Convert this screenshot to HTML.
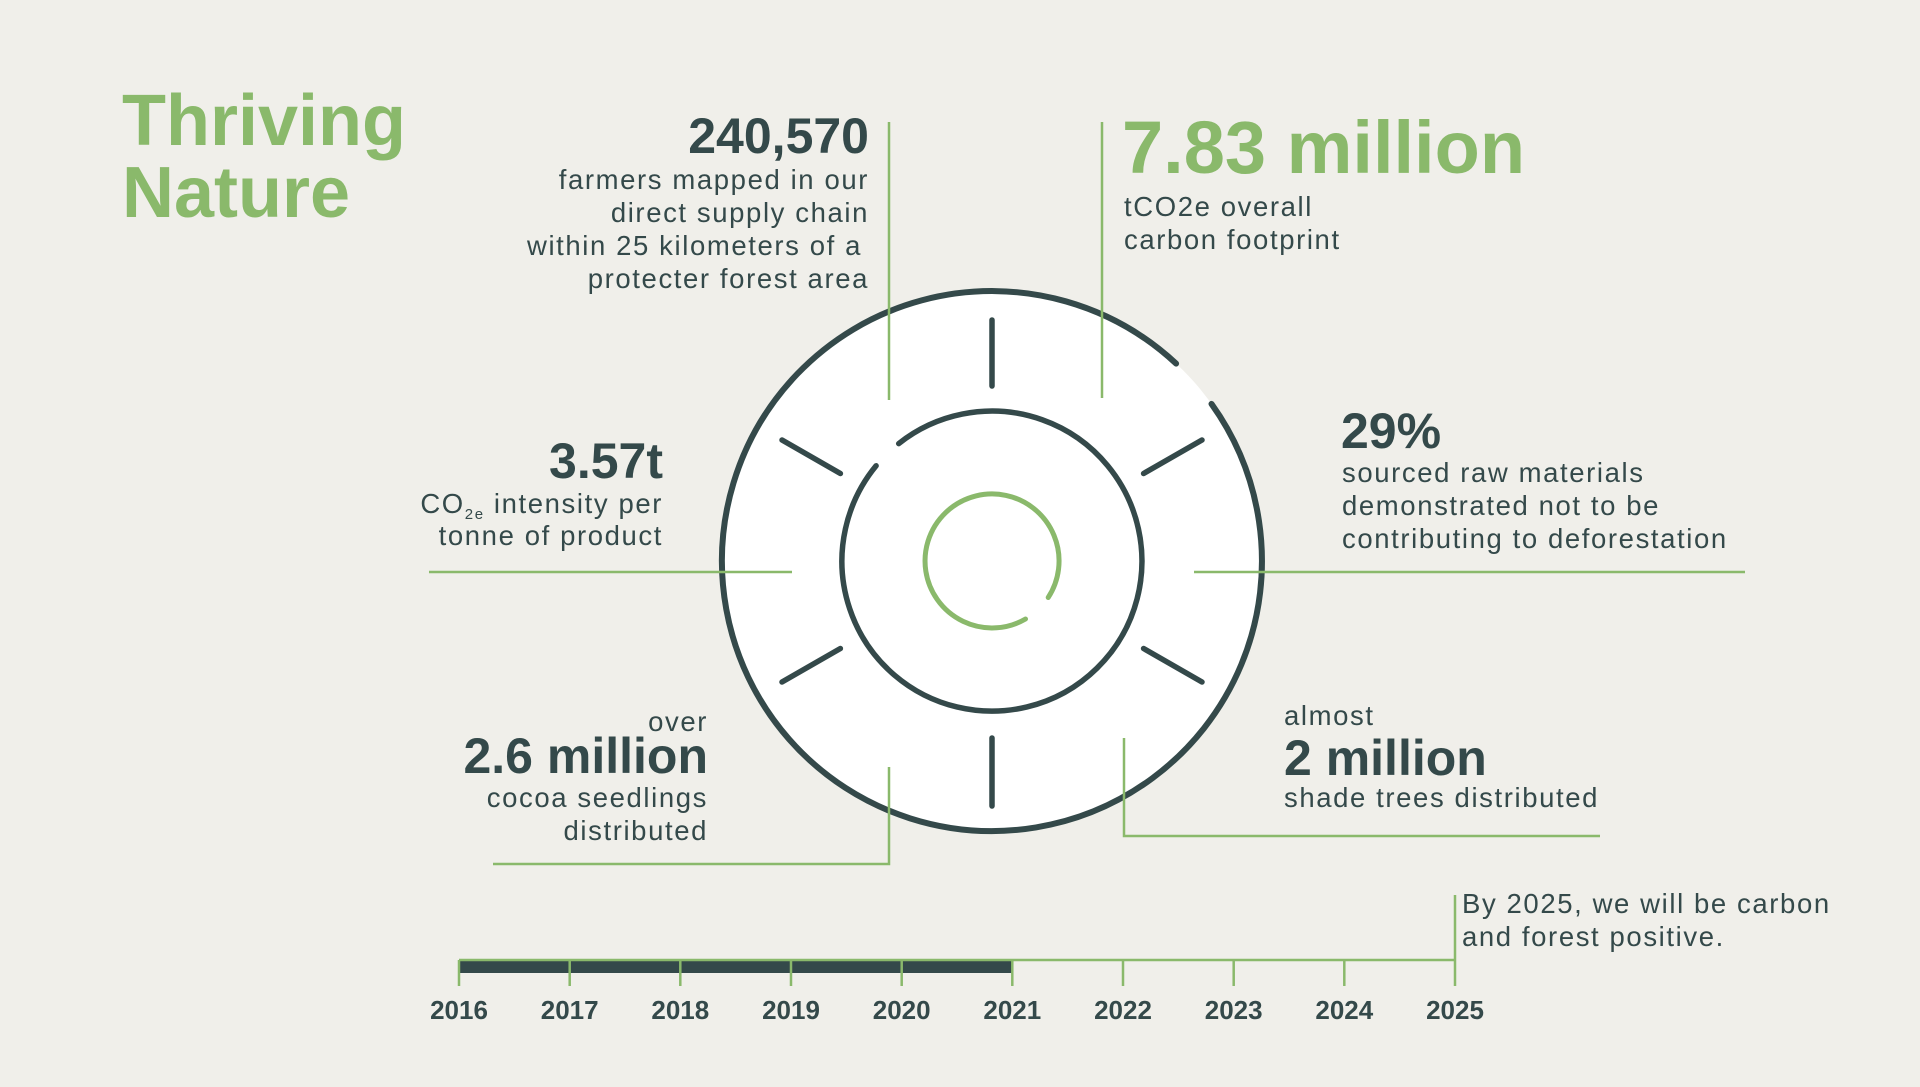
<!DOCTYPE html>
<html><head><meta charset="utf-8"><style>
html,body{margin:0;padding:0;background:#f0efea;}
svg{display:block;}
text{font-family:"Liberation Sans",sans-serif;}
.b{font-size:27.5px;fill:#34494a;letter-spacing:1.6px;}
.h{font-size:50px;font-weight:bold;fill:#34494a;}
.y{font-size:26px;fill:#34494a;font-weight:bold;}
</style></head><body>
<svg width="1920" height="1087" viewBox="0 0 1920 1087" xmlns="http://www.w3.org/2000/svg">
<rect width="1920" height="1087" fill="#f0efea"/>
<text x="122" y="145" font-size="72" font-weight="bold" fill="#8ab96b">Thriving</text>
<text x="122" y="217" font-size="72" font-weight="bold" fill="#8ab96b">Nature</text>

<circle cx="992" cy="561" r="270" fill="#fff"/>
<g fill="none" stroke="#34494a" stroke-linecap="round">
<path d="M1211.5 403.9 A270 270 0 1 1 1176.1 363.6" stroke-width="6"/>
<path d="M898.7 443.6 A150 150 0 1 1 876.1 465.8" stroke-width="5.5"/>
<g stroke-width="5.5">
<line x1="992" y1="386" x2="992" y2="320"/>
<line x1="992" y1="738" x2="992" y2="806"/>
<line x1="1143.6" y1="473.5" x2="1202" y2="440"/>
<line x1="840.4" y1="473.5" x2="782" y2="440"/>
<line x1="1143.6" y1="648.5" x2="1202" y2="682"/>
<line x1="840.4" y1="648.5" x2="782" y2="682"/>
</g></g>
<path d="M1025.5 619 A67 67 0 1 1 1048.2 597.5" fill="none" stroke="#8ab96b" stroke-width="5" stroke-linecap="round"/>

<g fill="none" stroke="#8ab96b" stroke-width="2.5">
<line x1="889" y1="122" x2="889" y2="400"/>
<line x1="1102" y1="122" x2="1102" y2="398"/>
<line x1="429" y1="572" x2="792" y2="572"/>
<line x1="1194" y1="572" x2="1745" y2="572"/>
<polyline points="889,767 889,864 493,864"/>
<polyline points="1124,738 1124,836 1600,836"/>
</g>

<text class="h" x="869" y="153" text-anchor="end">240,570</text>
<g text-anchor="end">
<text class="b" x="869" y="189">farmers mapped in our</text>
<text class="b" x="869" y="222">direct supply chain</text>
<text class="b" x="862" y="255">within 25 kilometers of a</text>
<text class="b" x="869" y="288">protecter forest area</text>
</g>
<text x="1122" y="173" font-size="74" font-weight="bold" fill="#8ab96b">7.83 million</text>
<text class="b" x="1124" y="216">tCO2e overall</text>
<text class="b" x="1124" y="249">carbon footprint</text>

<text class="h" x="1341" y="448">29%</text>
<text class="b" x="1342" y="482">sourced raw materials</text>
<text class="b" x="1342" y="515">demonstrated not to be</text>
<text class="b" x="1342" y="548">contributing to deforestation</text>

<text class="h" x="663" y="478" text-anchor="end">3.57t</text>
<text class="b" x="663" y="513" text-anchor="end">CO<tspan font-size="15" dy="6">2e</tspan><tspan dy="-6"> intensity per</tspan></text>
<text class="b" x="663" y="545" text-anchor="end">tonne of product</text>

<text class="b" x="708" y="731" text-anchor="end">over</text>
<text class="h" x="708" y="773" text-anchor="end">2.6 million</text>
<text class="b" x="708" y="807" text-anchor="end">cocoa seedlings</text>
<text class="b" x="708" y="840" text-anchor="end">distributed</text>

<text class="b" x="1284" y="725">almost</text>
<text class="h" x="1284" y="775">2 million</text>
<text class="b" x="1284" y="807">shade trees distributed</text>

<rect x="459" y="961" width="553" height="12" fill="#34494a"/>
<g stroke="#8ab96b" stroke-width="2.5" fill="none">
<line x1="459" y1="960" x2="1455" y2="960"/>
<line x1="1455" y1="895" x2="1455" y2="986"/>
<line x1="459" y1="960" x2="459" y2="986"/>
<line x1="569.7" y1="960" x2="569.7" y2="986"/>
<line x1="680.3" y1="960" x2="680.3" y2="986"/>
<line x1="791" y1="960" x2="791" y2="986"/>
<line x1="901.7" y1="960" x2="901.7" y2="986"/>
<line x1="1012.3" y1="960" x2="1012.3" y2="986"/>
<line x1="1123" y1="960" x2="1123" y2="986"/>
<line x1="1233.7" y1="960" x2="1233.7" y2="986"/>
<line x1="1344.3" y1="960" x2="1344.3" y2="986"/>
</g>
<g text-anchor="middle">
<text class="y" x="459" y="1019">2016</text>
<text class="y" x="569.7" y="1019">2017</text>
<text class="y" x="680.3" y="1019">2018</text>
<text class="y" x="791" y="1019">2019</text>
<text class="y" x="901.7" y="1019">2020</text>
<text class="y" x="1012.3" y="1019">2021</text>
<text class="y" x="1123" y="1019">2022</text>
<text class="y" x="1233.7" y="1019">2023</text>
<text class="y" x="1344.3" y="1019">2024</text>
<text class="y" x="1455" y="1019">2025</text>
</g>
<text class="b" x="1462" y="913">By 2025, we will be carbon</text>
<text class="b" x="1462" y="946">and forest positive.</text>
</svg>
</body></html>
